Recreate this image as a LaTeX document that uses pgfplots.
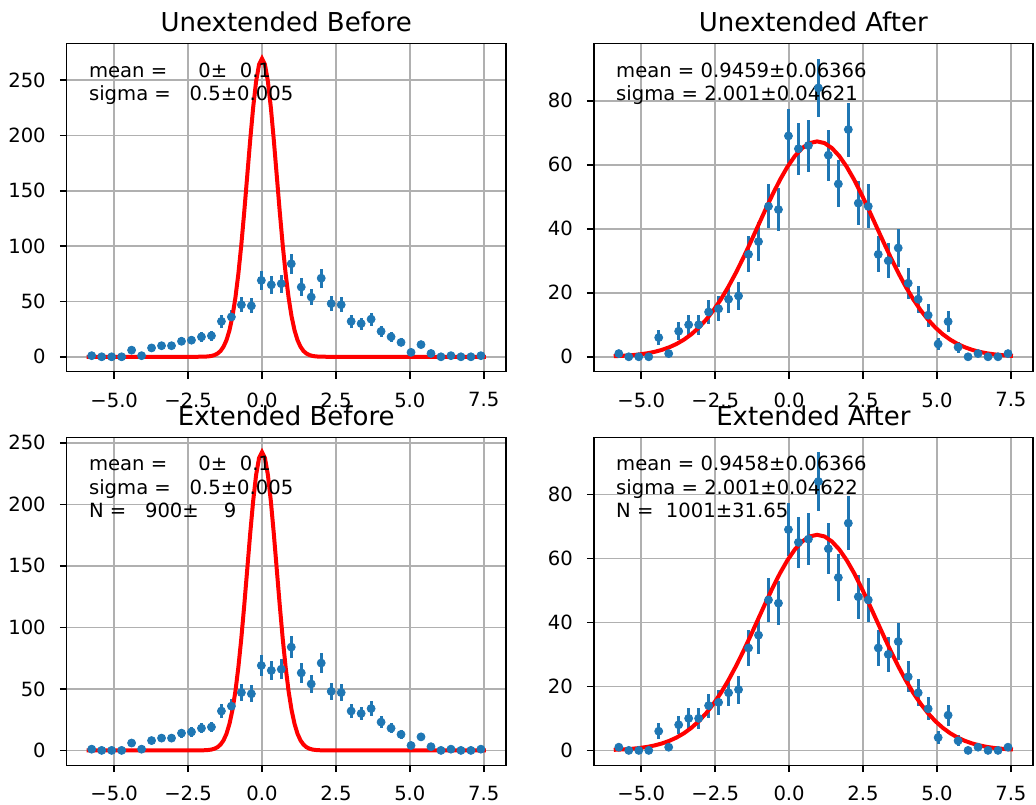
\documentclass[border=0pt]{standalone}
\usepackage{pgfplots}
\usepackage{pgfplotstable}
\pgfplotsset{compat=1.18}
\usepackage{fontspec}
\setmainfont{DejaVu Sans}

\definecolor{mplblue}{HTML}{1F77B4}
\definecolor{gridgray}{HTML}{B0B0B0}
\newcommand\fsz{\fontsize{9.8pt}{11.76pt}\selectfont}
\newcommand\tsz{\fontsize{13pt}{15.6pt}\selectfont}

% histogram: bin centre, count, sqrt(count)
\pgfplotstableread{
x y e
-5.760 1 1
-5.4225 0 0
-5.085 0 0
-4.7475 0 0
-4.410 6 2.449
-4.0725 1 1
-3.735 8 2.828
-3.3975 10 3.162
-3.060 10 3.162
-2.7225 14 3.742
-2.385 15 3.873
-2.0475 18 4.243
-1.710 19 4.359
-1.3725 32 5.657
-1.035 36 6
-0.6975 47 6.856
-0.360 46 6.782
-0.0225 69 8.307
0.315 65 8.062
0.6525 66 8.124
0.990 84 9.165
1.3275 63 7.937
1.665 54 7.348
2.0025 71 8.426
2.340 48 6.928
2.6775 47 6.856
3.015 32 5.657
3.3525 30 5.477
3.690 34 5.831
4.0275 23 4.796
4.365 18 4.243
4.7025 13 3.606
5.040 4 2
5.3775 11 3.317
5.715 3 1.732
6.0525 0 0
6.390 1 1
6.7275 0 0
7.065 0 0
7.4025 1 1
}\hist

% start values, unextended (mean 0, sigma 0.5)
\pgfplotstableread{
x y
-5.93 0
-2.2 0.02
-2.0 0.09
-1.9 0.20
-1.8 0.41
-1.7 0.83
-1.6 1.61
-1.5 2.99
-1.4 5.34
-1.3 9.17
-1.2 15.12
-1.1 23.95
-1.0 36.45
-0.9 53.29
-0.8 74.88
-0.7 101.07
-0.6 131.08
-0.5 163.34
-0.4 195.55
-0.3 224.94
-0.2 248.60
-0.1 263.97
0.0 269.30
0.1 263.97
0.2 248.60
0.3 224.94
0.4 195.55
0.5 163.34
0.6 131.08
0.7 101.07
0.8 74.88
0.9 53.29
1.0 36.45
1.1 23.95
1.2 15.12
1.3 9.17
1.4 5.34
1.5 2.99
1.6 1.61
1.7 0.83
1.8 0.41
1.9 0.20
2.0 0.09
2.2 0.02
7.57 0
}\uebefore

% start values, extended (N = 900)
\pgfplotstableread{
x y
-5.93 0
-2.2 0.02
-2.0 0.08
-1.9 0.18
-1.8 0.37
-1.7 0.75
-1.6 1.45
-1.5 2.69
-1.4 4.81
-1.3 8.25
-1.2 13.60
-1.1 21.60
-1.0 32.80
-0.9 48.00
-0.8 67.40
-0.7 91.00
-0.6 118.00
-0.5 147.00
-0.4 176.00
-0.3 202.50
-0.2 223.80
-0.1 237.60
0.0 242.40
0.1 237.60
0.2 223.80
0.3 202.50
0.4 176.00
0.5 147.00
0.6 118.00
0.7 91.00
0.8 67.40
0.9 48.00
1.0 32.80
1.1 21.60
1.2 13.60
1.3 8.25
1.4 4.81
1.5 2.69
1.6 1.45
1.7 0.75
1.8 0.37
1.9 0.18
2.0 0.08
2.2 0.02
7.57 0
}\exbefore

% fitted, unextended
\pgfplotstableread{
x y
-5.93 0.18
-5.5541 0.34
-5.3041 0.51
-5.0541 0.75
-4.8041 1.08
-4.5541 1.54
-4.3041 2.15
-4.0541 2.97
-3.8041 4.02
-3.5541 5.37
-3.3041 7.05
-3.0541 9.13
-2.8041 11.62
-2.5541 14.58
-2.3041 17.99
-2.0541 21.87
-1.8041 26.17
-1.5541 30.83
-1.3041 35.76
-1.0541 40.83
-0.8041 45.90
-0.5541 50.81
-0.3041 55.36
-0.0541 59.39
0.1959 62.73
0.4459 65.22
0.6959 66.77
0.9459 67.29
1.1959 66.77
1.4459 65.22
1.6959 62.73
1.9459 59.39
2.1959 55.36
2.4459 50.81
2.6959 45.90
2.9459 40.83
3.1959 35.76
3.4459 30.83
3.6959 26.17
3.9459 21.87
4.1959 17.99
4.4459 14.58
4.6959 11.62
4.9459 9.13
5.1959 7.05
5.4459 5.37
5.6959 4.02
5.9459 2.97
6.1959 2.15
6.4459 1.54
6.6959 1.08
6.9459 0.75
7.1959 0.51
7.4459 0.34
7.57 0.28
}\ueafter

% fitted, extended
\pgfplotstableread{
x y
-5.93 0.18
-5.5542 0.34
-5.3042 0.51
-5.0542 0.75
-4.8042 1.08
-4.5542 1.54
-4.3042 2.16
-4.0542 2.97
-3.8042 4.03
-3.5542 5.37
-3.3042 7.06
-3.0542 9.13
-2.8042 11.63
-2.5542 14.59
-2.3042 18.01
-2.0542 21.89
-1.8042 26.20
-1.5542 30.86
-1.3042 35.80
-1.0542 40.88
-0.8042 45.95
-0.5542 50.86
-0.3042 55.42
-0.0542 59.45
0.1958 62.79
0.4458 65.29
0.6958 66.84
0.9458 67.36
1.1958 66.84
1.4458 65.29
1.6958 62.79
1.9458 59.45
2.1958 55.42
2.4458 50.86
2.6958 45.95
2.9458 40.88
3.1958 35.80
3.4458 30.86
3.6958 26.20
3.9458 21.89
4.1958 18.01
4.4458 14.59
4.6958 11.63
4.9458 9.13
5.1958 7.06
5.4458 5.37
5.6958 4.03
5.9458 2.97
6.1958 2.16
6.4458 1.54
6.6958 1.08
6.9458 0.75
7.1958 0.51
7.4458 0.34
7.57 0.28
}\exafter

\tikzset{txt/.style={anchor=base west, inner sep=0pt, font=\fsz}}

\pgfplotsset{
  sub/.style={
    scale only axis, width=219.55pt, height=164pt, anchor=south west,
    xmin=-6.605, xmax=8.245,
    xtick={-5,-2.5,0,2.5,5,7.5},
    xticklabels={−5.0,−2.5,0.0,2.5,5.0,7.5},
    grid=major,
    major grid style={line width=0.78pt, color=gridgray},
    axis line style={line width=0.78pt, black},
    tick style={line width=0.78pt, black},
    tick align=outside, tick pos=left, major tick length=3.43pt,
    xticklabel style={font=\fsz, anchor=north, inner sep=0pt, yshift=-6.86pt},
    yticklabel style={font=\fsz, anchor=east, inner sep=0pt, xshift=-6.86pt},
    every axis title/.style={at={(0.5,1)}, anchor=base, yshift=6pt, inner sep=0pt, font=\tsz},
  },
  hist/.style={only marks, mark=*, mark size=2pt, color=mplblue,
    error bars/.cd, y dir=both, y explicit, error mark=none,
    error bar style={line width=1.47pt, color=mplblue}},
  fit/.style={no marks, red, line width=2pt},
}

\begin{document}
\begin{tikzpicture}
\path[use as bounding box] (0,0) rectangle (518pt,402pt);

\begin{axis}[sub, at={(33.35pt,216.15pt)}, title={Unextended Before},
  ymin=-13.47, ymax=282.8, ytick={0,50,100,150,200,250},
  yticklabels={0,50,100,150,200,250}]
\addplot[hist] table[x=x, y=y, y error=e] {\hist};
\addplot[fit] table[x=x, y=y] {\uebefore};
\node[txt] at (axis description cs:0.05,0.898) {mean =\ \ \ \ \ 0±\ \ 0.1};
\node[txt] at (axis description cs:0.05,0.826) {sigma =\ \ \ 0.5±0.005};
\end{axis}

\begin{axis}[sub, at={(296.9pt,216.15pt)}, title={Unextended After},
  ymin=-4.66, ymax=97.82, ytick={0,20,40,60,80},
  yticklabels={0,20,40,60,80}]
\addplot[hist] table[x=x, y=y, y error=e] {\hist};
\addplot[fit] table[x=x, y=y] {\ueafter};
\node[txt] at (axis description cs:0.05,0.898) {mean = 0.9459±0.06366};
\node[txt] at (axis description cs:0.05,0.826) {sigma = 2.001±0.04621};
\end{axis}

\begin{axis}[sub, at={(33.35pt,19.35pt)}, title={Extended Before},
  ymin=-12.12, ymax=254.5, ytick={0,50,100,150,200,250},
  yticklabels={0,50,100,150,200,250}]
\addplot[hist] table[x=x, y=y, y error=e] {\hist};
\addplot[fit] table[x=x, y=y] {\exbefore};
\node[txt] at (axis description cs:0.05,0.898) {mean =\ \ \ \ \ 0±\ \ 0.1};
\node[txt] at (axis description cs:0.05,0.826) {sigma =\ \ \ 0.5±0.005};
\node[txt] at (axis description cs:0.05,0.755) {N =\ \ \ 900±\ \ \ \ 9};
\end{axis}

\begin{axis}[sub, at={(296.9pt,19.35pt)}, title={Extended After},
  ymin=-4.66, ymax=97.82, ytick={0,20,40,60,80},
  yticklabels={0,20,40,60,80}]
\addplot[hist] table[x=x, y=y, y error=e] {\hist};
\addplot[fit] table[x=x, y=y] {\exafter};
\node[txt] at (axis description cs:0.05,0.898) {mean = 0.9458±0.06366};
\node[txt] at (axis description cs:0.05,0.826) {sigma = 2.001±0.04622};
\node[txt] at (axis description cs:0.05,0.755) {N =\ \ 1001±31.65};
\end{axis}
\end{tikzpicture}
\end{document}
